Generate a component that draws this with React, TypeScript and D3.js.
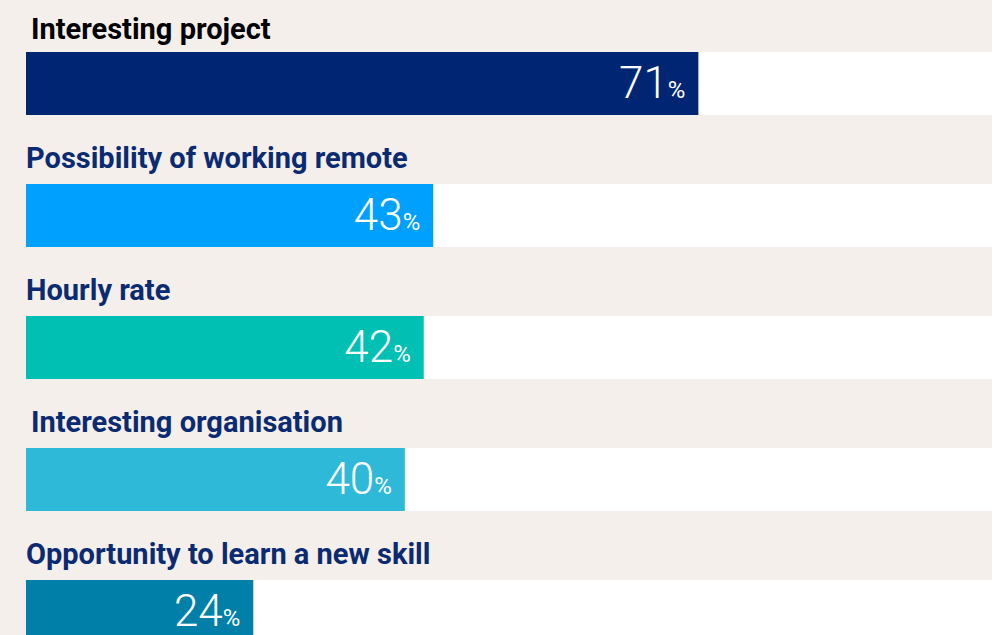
import React, { useRef, useEffect } from 'react';
import * as d3 from 'd3';

const categories = [
  'Interesting project',
  'Possibility of working remote',
  'Hourly rate',
  'Interesting organisation',
  'Opportunity to learn a new skill',
];
const values = [71, 43, 42, 40, 24];
const barColors = ['#002673', '#00a0ff', '#00bfb3', '#2fb9d9', '#0080a8'];

const App = () => {
  const svgRef = useRef<SVGSVGElement>(null);

  useEffect(() => {
    const width = 992;
    const height = 635;
    const marginLeft = 26;
    const barHeight = 63;

    const svg = d3.select(svgRef.current);
    svg.selectAll('*').remove();
    svg
      .attr('width', width)
      .attr('height', height)
      .attr('viewBox', [0, 0, width, height])
      .style('font-family', 'Roboto, sans-serif');

    svg.append('rect')
      .attr('width', width)
      .attr('height', height)
      .attr('fill', '#f4efeb');

    // band scale for the rows, linear scale for the bar length
    const y = d3.scaleBand<string>()
      .domain(categories)
      .range([52, 52 + 132 * categories.length]);

    const x = d3.scaleLinear()
      .domain([0, 100])
      .range([marginLeft, marginLeft + 947]);

    const rows = svg.append('g')
      .selectAll('g')
      .data(categories)
      .join('g')
      .attr('transform', d => `translate(0,${y(d)})`);

    // white track
    rows.append('rect')
      .attr('x', marginLeft)
      .attr('width', width - marginLeft)
      .attr('height', barHeight)
      .attr('fill', '#ffffff');

    // coloured bar
    rows.append('rect')
      .attr('x', marginLeft)
      .attr('width', (d, i) => x(values[i]) - marginLeft)
      .attr('height', barHeight)
      .attr('fill', (d, i) => barColors[i]);

    // category label
    rows.append('text')
      .attr('x', (d, i) => (i === 0 || i === 3 ? 31 : marginLeft))
      .attr('y', (d, i) => (i === 0 ? -13 : -16))
      .attr('fill', (d, i) => (i === 0 ? '#000000' : '#0a2a72'))
      .attr('font-weight', 700)
      .attr('font-size', 29)
      .text(d => d);

    // value label
    const val = rows.append('text')
      .attr('x', (d, i) => x(values[i]) - 13)
      .attr('y', 46)
      .attr('text-anchor', 'end')
      .attr('fill', '#ffffff')
      .attr('font-weight', 300);

    val.append('tspan')
      .attr('font-size', 44)
      .text((d, i) => values[i]);
    val.append('tspan')
      .attr('font-size', 24)
      .attr('font-weight', 400)
      .text('%');
  }, []);

  return (
    <div style={{ position: 'absolute', left: 0, top: 0 }}>
      <svg ref={svgRef} style={{ display: 'block' }}></svg>
    </div>
  );
};

export default App;
